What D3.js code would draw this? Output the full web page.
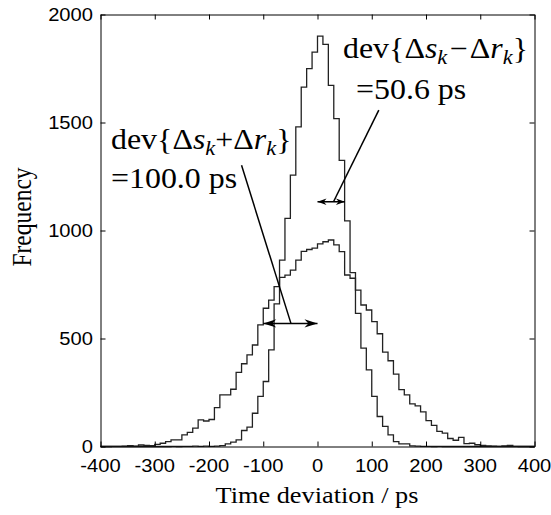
<!DOCTYPE html>
<html>
<head>
<meta charset="utf-8">
<script src="https://cdn.jsdelivr.net/npm/d3@7"></script>
<style>
  body { margin: 0; background: #fff; }
</style>
</head>
<body>
<div id="chart"></div>
<script>
// histogram bin edges (ps), 10 ps wide
var binEdges = [-400,-390,-380,-370,-360,-350,-340,-330,-320,-310,
                -300,-290,-280,-270,-260,-250,-240,-230,-220,-210,
                -200,-190,-180,-170,-160,-150,-140,-130,-120,-110,
                -100,-90,-80,-70,-60,-50,-40,-30,-20,-10,
                0,10,20,30,40,50,60,70,80,90,
                100,110,120,130,140,150,160,170,180,190,
                200,210,220,230,240,250,260,270,280,290,
                300,310,320,330,340,350,360,370,380,390,400];

// dev{Δs-Δr} = 50.6 ps (narrow)
var narrowCounts = [0,0,0,0,0,0,0,0,0,0,
                    0,0,0,1,0,1,1,2,1,2,
                    1,2,4,12,20,31,74,90,154,232,
                    301,447,660,863,1056,1256,1480,1664,1749,1826,
                    1900,1862,1672,1518,1325,1045,805,616,455,355,
                    232,139,93,54,23,12,12,3,2,1,
                    1,0,1,0,0,0,0,0,0,0,
                    0,0,0,0,0,0,0,0,0,0];

// dev{Δs+Δr} = 100.0 ps (wide)
var wideCounts = [0,0,1,1,2,4,2,7,5,4,
                  10,15,23,31,31,54,65,85,123,118,
                  125,180,239,239,265,343,383,424,470,563,
                  640,678,740,783,793,817,863,903,912,918,
                  938,948,956,933,902,794,779,724,655,632,
                  578,522,437,397,335,263,239,197,188,160,
                  120,98,70,62,37,29,42,13,15,8,
                  5,3,2,1,3,5,1,0,0,0];

var xTicks = [-400,-300,-200,-100,0,100,200,300,400];
var yTicks = [0,500,1000,1500,2000];

// std arrows: [from, to] in ps, drawn at a count level
var wideArrow = {x: [-100, 0], y: 570};
var narrowArrow = {x: [0, 50.6], y: 1133};
// leader lines: [[x,y],[x,y]] in data units
var wideLeader = [[-140, 1302], [-49, 570]];
var narrowLeader = [[113, 1557], [29.5, 1133]];

var width = 551, height = 515;
var margin = {top: 14.5, right: 16.5, bottom: 68.5, left: 100.5};
var sx = 1.12; // text in the figure is slightly stretched horizontally
var sans = "'Liberation Sans', Arial, sans-serif";
var serif = "'Liberation Serif', 'Times New Roman', serif";

var xScale = d3.scaleLinear()
    .domain([-400, 400])
    .range([margin.left, width - margin.right]);
var yScale = d3.scaleLinear()
    .domain([0, 2000])
    .range([height - margin.bottom, margin.top]);

var svg = d3.select("#chart")
    .append("svg")
    .attr("width", width)
    .attr("height", height);

function putText(x, y, rot) {
    return svg.append("text")
        .attr("transform", "translate(" + x + "," + y + ") scale(" + sx + ",1)" + (rot ? " rotate(" + rot + ")" : ""));
}

// histograms
var line = d3.line()
    .x(d => xScale(d[0]))
    .y(d => yScale(d[1]))
    .curve(d3.curveStepAfter);

function steps(counts) {
    var pts = counts.map((c, i) => [binEdges[i], c]);
    pts.push([binEdges[binEdges.length - 1], counts[counts.length - 1]]);
    return pts;
}

svg.append("path")
    .attr("d", line(steps(wideCounts)))
    .attr("fill", "none")
    .attr("stroke", "#222")
    .attr("stroke-width", 1.3);

svg.append("path")
    .attr("d", line(steps(narrowCounts)))
    .attr("fill", "none")
    .attr("stroke", "#222")
    .attr("stroke-width", 1.3);

// axes: inward ticks on all four sides
svg.append("g")
    .attr("transform", `translate(0, ${height - margin.bottom})`)
    .call(d3.axisBottom(xScale).tickValues(xTicks).tickSize(-5).tickFormat("").tickSizeOuter(0));
svg.append("g")
    .attr("transform", `translate(0, ${margin.top})`)
    .call(d3.axisTop(xScale).tickValues(xTicks).tickSize(-5).tickFormat("").tickSizeOuter(0));
svg.append("g")
    .attr("transform", `translate(${margin.left}, 0)`)
    .call(d3.axisLeft(yScale).tickValues(yTicks).tickSize(-5).tickFormat("").tickSizeOuter(0));
svg.append("g")
    .attr("transform", `translate(${width - margin.right}, 0)`)
    .call(d3.axisRight(yScale).tickValues(yTicks).tickSize(-5).tickFormat("").tickSizeOuter(0));
svg.selectAll(".domain, .tick line").attr("stroke", "#000").attr("stroke-width", 1);

// tick labels
xTicks.forEach(function(t) {
    putText(xScale(t), 471.5)
        .attr("text-anchor", "middle")
        .attr("font-family", sans)
        .attr("font-size", 18)
        .text(t);
});
yTicks.forEach(function(t) {
    putText(93, yScale(t) + 6.5)
        .attr("text-anchor", "end")
        .attr("font-family", sans)
        .attr("font-size", 18)
        .text(t);
});

// axis titles
putText(317, 502.5)
    .attr("text-anchor", "middle")
    .attr("font-family", serif)
    .attr("font-size", 23.5)
    .text("Time deviation / ps");
putText(31, 217, -90)
    .attr("text-anchor", "middle")
    .attr("font-family", serif)
    .attr("font-size", 23.5)
    .text("Frequency");

// arrowheads
var defs = svg.append("defs");
function head(id, len, hw) {
    defs.append("marker")
        .attr("id", id)
        .attr("markerUnits", "userSpaceOnUse")
        .attr("viewBox", (-len - 1) + " " + (-hw - 1) + " " + (len + 2) + " " + (2 * hw + 2))
        .attr("markerWidth", len + 2)
        .attr("markerHeight", 2 * hw + 2)
        .attr("refX", 0).attr("refY", 0)
        .attr("orient", "auto-start-reverse")
        .append("path")
        .attr("d", `M0,0L${-len},${-hw}L${-len * 0.7},0L${-len},${hw}Z`)
        .attr("fill", "#000");
}
head("hBig", 13, 4.2);
head("hSmall", 9, 3.2);

function arrow(a, id) {
    svg.append("line")
        .attr("x1", xScale(a.x[0])).attr("x2", xScale(a.x[1]))
        .attr("y1", yScale(a.y)).attr("y2", yScale(a.y))
        .attr("stroke", "#000").attr("stroke-width", 1.5)
        .attr("marker-start", `url(#${id})`)
        .attr("marker-end", `url(#${id})`);
}
arrow(wideArrow, "hBig");
arrow(narrowArrow, "hSmall");

function leader(l) {
    svg.append("line")
        .attr("x1", xScale(l[0][0])).attr("y1", yScale(l[0][1]))
        .attr("x2", xScale(l[1][0])).attr("y2", yScale(l[1][1]))
        .attr("stroke", "#000").attr("stroke-width", 1.5);
}
leader(wideLeader);
leader(narrowLeader);

// annotations
var annSize = 28.5, subSize = 20;
function devLabel(x, y, op, gap) {
    var t = putText(x, y)
        .attr("font-family", serif)
        .attr("font-size", annSize);
    t.append("tspan").text("dev{\u0394");
    t.append("tspan").attr("font-style", "italic").text("s");
    t.append("tspan").attr("font-style", "italic").attr("font-size", subSize).attr("dy", 6).text("k");
    t.append("tspan").attr("dy", -6).attr("dx", gap).text(op);
    t.append("tspan").attr("dx", gap).text("\u0394");
    t.append("tspan").attr("font-style", "italic").text("r");
    t.append("tspan").attr("font-style", "italic").attr("font-size", subSize).attr("dy", 6).text("k");
    t.append("tspan").attr("dy", -6).text("}");
}
devLabel(111, 149, "+", 0);
putText(111, 187.5)
    .attr("font-family", serif)
    .attr("font-size", annSize)
    .text("=100.0 ps");

devLabel(343, 58, "\u2212", 2);
putText(356, 99)
    .attr("font-family", serif)
    .attr("font-size", annSize)
    .text("=50.6 ps");
</script>
</body>
</html>
